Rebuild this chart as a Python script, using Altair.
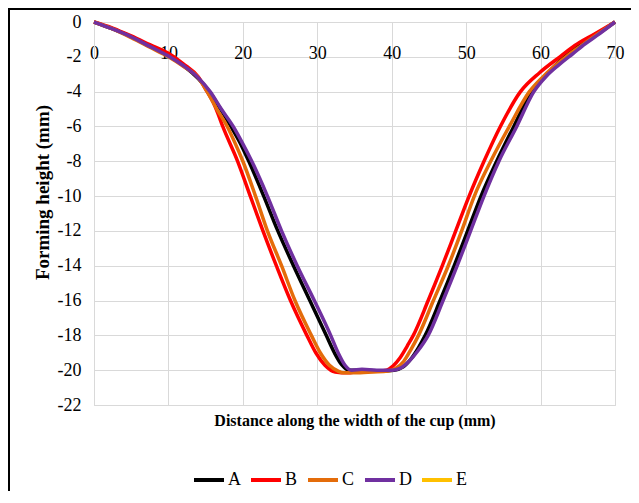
import altair as alt
import pandas as pd

x_ticks = [0, 10, 20, 30, 40, 50, 60, 70]
y_ticks = [0, -2, -4, -6, -8, -10, -12, -14, -16, -18, -20, -22]
series_names = ["A", "B", "C", "D", "E"]
series_colors = ["#000000", "#ff0000", "#e46c0a", "#7030a0", "#ffc000"]

a_x = [0, 2.5, 5, 7.5, 10, 12, 14, 15.5, 17.0, 18.4, 19.7, 20.8, 22.8, 24.7, 26.8, 29.0, 31.2, 32.3, 33.3, 34.3, 36, 38, 40.3, 41.6, 42.5, 43.6, 44.5, 46.5, 48.4, 50.2, 52.0, 54.1, 56.4, 58.8, 60.6, 62.3, 64.2, 67.3, 70]
a_y = [0, -0.4, -0.85, -1.4, -1.95, -2.5, -3.25, -4.0, -5.0, -6.0, -7.0, -8.0, -10.0, -12.0, -14.0, -16.0, -18.0, -19.0, -19.7, -20.0, -20.0, -20.05, -20.0, -19.8, -19.4, -18.7, -18.0, -16.0, -14.0, -12.0, -10.0, -8.0, -6.0, -4.0, -3.1, -2.35, -1.65, -0.8, 0]

b_x = [0, 2.5, 5, 7.5, 10, 12, 14, 15.0, 16.0, 16.6, 17.3, 19.3, 21.0, 22.7, 24.5, 26.4, 28.6, 29.8, 31.0, 32.4, 34, 36, 38, 39.3, 40.2, 41.1, 42.1, 42.9, 44.9, 46.8, 48.6, 50.4, 52.4, 54.6, 57.3, 59.9, 62.6, 64.6, 67.2, 70]
b_y = [0, -0.35, -0.8, -1.3, -1.8, -2.4, -3.15, -3.85, -4.6, -5.2, -6.0, -8.0, -10.0, -12.0, -14.0, -16.0, -18.0, -19.0, -19.7, -20.1, -20.15, -20.05, -20.05, -20.0, -19.75, -19.3, -18.6, -18.0, -16.0, -14.0, -12.0, -10.0, -8.0, -6.0, -4.0, -2.9, -2.0, -1.35, -0.7, 0]

c_x = [0, 2.5, 5, 7.5, 10, 12, 14, 15.2, 16.5, 17.9, 19.0, 20.0, 21.7, 23.3, 25.2, 27.0, 29.2, 30.4, 31.6, 32.8, 33.5, 35, 37.5, 39.5, 40.5, 41.6, 42.6, 43.6, 45.6, 47.6, 49.4, 51.1, 53.3, 55.8, 58.5, 60.8, 63.4, 65.5, 67.5, 70]
c_y = [0, -0.4, -0.9, -1.45, -2.0, -2.55, -3.2, -4.0, -5.0, -6.0, -7.0, -8.0, -10.0, -12.0, -14.0, -16.0, -18.0, -19.0, -19.7, -20.05, -20.15, -20.15, -20.1, -20.05, -19.9, -19.5, -18.8, -18.0, -16.0, -14.0, -12.0, -10.0, -8.0, -6.0, -4.0, -2.95, -2.0, -1.35, -0.75, 0]

d_x = [0, 2.5, 5, 7.5, 10, 12, 14, 15.6, 17.1, 18.7, 20.0, 21.2, 23.3, 25.2, 27.3, 29.6, 31.8, 32.8, 33.7, 34.6, 36, 38, 40, 41.1, 42.3, 43.5, 44.9, 46.9, 48.8, 50.6, 52.4, 54.4, 56.8, 59.1, 60.8, 62.5, 64.4, 66.0, 67.5, 70]
d_y = [0, -0.4, -0.85, -1.4, -1.95, -2.5, -3.2, -4.0, -5.0, -6.0, -7.0, -8.0, -10.0, -12.0, -14.0, -16.0, -18.0, -19.0, -19.7, -20.0, -19.95, -20.0, -20.0, -19.9, -19.5, -18.9, -18.0, -16.0, -14.0, -12.0, -10.0, -8.0, -6.0, -4.0, -3.1, -2.45, -1.8, -1.25, -0.8, 0]

rows = []
for name, xs, ys in [("A", a_x, a_y), ("B", b_x, b_y), ("C", c_x, c_y), ("D", d_x, d_y)]:
    for xv, yv in zip(xs, ys):
        rows.append({"series": name, "x": xv, "y": yv})
df = pd.DataFrame(rows)

FONT = "Liberation Serif, Times New Roman, serif"

lines = alt.Chart(df).mark_line(strokeWidth=3.5, interpolate="monotone").encode(
    x=alt.X("x:Q",
            scale=alt.Scale(domain=[0, 70], nice=False, zero=False),
            axis=alt.Axis(values=x_ticks, orient="bottom", offset=-383,
                          title="Distance along the width of the cup (mm)",
                          titleX=260.5, titleY=398, titleBaseline="middle",
                          titleFontSize=16, labelPadding=22,
                          labelExpr="'' + datum.value")),
    y=alt.Y("y:Q",
            scale=alt.Scale(domain=[-22, 0], nice=False, zero=False),
            axis=alt.Axis(values=y_ticks, title="Forming height (mm)",
                          titleX=-52, titleY=170, titleAngle=270,
                          titleBaseline="middle", titleAlign="center",
                          titleFontSize=19, labelPadding=13,
                          labelExpr="'' + datum.value")),
    color=alt.Color("series:N",
                    scale=alt.Scale(domain=series_names, range=series_colors),
                    legend=alt.Legend(title=None, orient="none", direction="horizontal",
                                      legendX=98, legendY=441,
                                      symbolType="stroke", symbolSize=900,
                                      symbolStrokeWidth=4, labelOffset=2,
                                      columnPadding=2, labelFont=FONT,
                                      labelFontSize=18, labelColor="black")),
)

border = alt.Chart(alt.Data(values=[{"b": 1}])).mark_rect(
    fill="transparent", stroke="black", strokeWidth=2
).encode(
    x=alt.value(-85), x2=alt.value(560), y=alt.value(-13), y2=alt.value(500)
)

chart = alt.layer(lines, border).properties(
    width=521, height=383,
    padding={"left": 86, "top": 14, "right": 16, "bottom": 86},
    autosize=alt.AutoSizeParams(type="none"),
    background="white",
).configure_axis(
    labelFont=FONT, labelFontSize=18, labelColor="black",
    titleFont=FONT, titleFontWeight="bold", titleColor="black",
    ticks=False, domainColor="#d9d9d9", gridColor="#d9d9d9",
    labelFlush=False, labelOverlap=False, labelBound=False,
).configure_view(stroke="#d9d9d9")

chart.save("out.html", embed_options={"renderer": "svg", "actions": False})
